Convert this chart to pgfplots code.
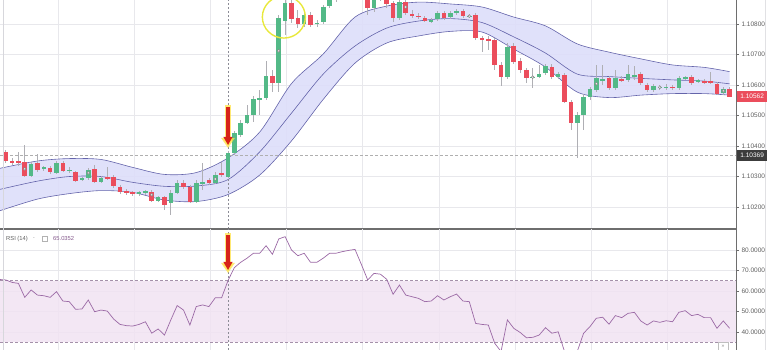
\documentclass[border=0pt]{standalone}
\usepackage{pgfplots}
\pgfplotsset{compat=1.18}
\usepackage{pgfplotstable}
\usepgfplotslibrary{fillbetween}
\usetikzlibrary{arrows.meta}
\usepackage{fontspec}
\setmainfont{Liberation Sans}
\definecolor{up}{RGB}{83,185,135}
\definecolor{dn}{RGB}{235,77,92}
\definecolor{wick}{RGB}{175,175,180}
\definecolor{bandline}{RGB}{100,100,170}
\definecolor{bandfill}{RGB}{221,222,250}
\definecolor{rsiline}{RGB}{155,105,165}
\definecolor{rsifill}{RGB}{241,227,242}
\definecolor{rsidash}{RGB}{165,145,170}
\definecolor{gridc}{RGB}{232,232,236}
\definecolor{axc}{RGB}{110,110,110}
\definecolor{lbl}{RGB}{95,95,95}
\definecolor{arrred}{RGB}{215,35,25}
\definecolor{glow}{RGB}{255,225,70}
\definecolor{circ}{RGB}{232,232,60}
\definecolor{darkbox}{RGB}{60,60,60}
\definecolor{hdash}{RGB}{175,175,175}
\definecolor{vdash}{RGB}{140,140,150}
\definecolor{bordl}{RGB}{215,215,220}
\definecolor{bordr}{RGB}{225,225,228}

% prices in units of 0.00001 above 1.10000
\pgfplotstableread{
i o h l c
4 303 348 299 341
6 325 335 318 330
8 313 351 309 344
10 318 331 312 323
12 289 299 286 294
13 294 328 289 322
15 283 302 279 294
21 243 253 236 248
22 245 256 240 251
24 221 236 217 232
26 212 256 174 245
27 247 289 243 280
30 218 289 213 278
31 277 344 256 282
33 280 315 276 305
35 300 384 295 376
36 376 449 371 442
37 436 486 430 477
38 477 535 472 502
39 502 564 479 553
40 553 584 502 558
41 557 679 551 630
43 606 830 577 819
44 811 879 764 870
47 800 840 791 830
49 800 813 791 805
50 807 863 800 855
51 859 895 853 885
52 885 928 872 912
53 912 961 905 950
58 852 900 840 886
62 819 879 813 873
67 808 820 804 813
68 816 843 810 835
70 822 843 817 835
71 835 850 830 844
73 823 833 820 828
79 626 739 620 726
83 623 655 590 628
84 628 666 623 636
85 641 669 633 663
87 626 643 620 636
90 475 512 360 502
91 502 571 453 562
92 562 594 551 586
93 584 666 577 622
94 615 666 600 620
96 590 650 584 622
98 617 666 610 636
99 628 663 617 633
102 584 604 577 597
103 590 600 584 595
104 590 604 584 595
106 590 630 584 622
107 620 630 617 625
109 610 620 607 615
113 573 594 568 587
}\upc

\pgfplotstableread{
i o h l c
0 381 387 345 351
1 351 361 338 346
2 351 382 335 346
3 349 404 299 303
5 344 374 315 322
7 327 335 309 316
9 344 351 315 319
11 314 318 282 287
14 324 338 279 283
16 299 332 289 294
17 298 305 263 269
18 267 272 243 249
19 251 259 240 246
20 248 253 236 243
23 250 256 217 221
25 232 236 190 207
28 280 289 259 265
29 267 272 213 218
32 288 295 272 279
34 311 348 299 305
42 630 650 577 606
45 870 879 804 816
46 819 846 787 800
48 830 840 791 797
54 961 970 925 935
55 940 950 900 912
56 915 925 882 885
57 889 900 830 852
59 905 915 875 882
60 886 895 853 866
61 868 875 807 819
63 873 879 830 835
64 833 846 820 828
65 828 836 817 823
66 819 827 807 811
69 835 843 813 819
72 844 850 820 827
74 830 836 748 753
75 753 761 710 748
76 751 761 715 746
77 748 754 650 666
78 666 676 597 626
80 728 739 669 677
81 679 689 640 650
82 650 656 606 622
86 660 669 620 626
88 633 640 541 546
89 546 551 453 475
95 622 630 584 590
97 620 630 610 615
100 636 643 600 606
101 600 607 577 584
105 595 600 584 590
108 628 633 600 606
110 613 620 604 608
111 613 644 604 608
112 604 610 568 571
114 587 594 561 562
}\dnc

\pgfplotstableread{
i up mid lo
-0.9 327 258 188
5 351 285 226
10 359 300 244
15 356 300 254
20 330 281 248
25 307 268 223
30 313 269 218
35 361 290 241
40 446 381 305
45 605 508 417
50 702 636 553
55 823 728 672
60 859 787 738
65 872 810 761
70 866 818 776
75 856 805 774
80 823 758 718
85 794 705 659
90 735 636 577
95 708 628 559
100 686 622 567
105 666 617 572
110 658 613 572
114 644 604 567
}\bands

\pgfplotstableread{
i v
-0.9 65.6
0 65.4
1 64.2
2 63.7
3 56.9
4 60.5
5 58
6 57.7
7 56.9
8 59.7
9 55.1
10 54.8
11 51.1
12 51.2
13 55.6
14 49.9
15 50.7
16 50.2
17 46.3
18 43.7
19 43.1
20 42.9
21 43.7
22 45
23 39.4
24 41.5
25 38.5
26 45.9
27 52.9
28 50.7
29 43.4
30 52.4
31 53.2
32 52.4
33 56.7
34 56.7
35 65.04
36 71.4
37 74
38 76
39 78.4
40 78.4
41 82.1
42 77.9
43 85.4
44 86.5
45 80
46 77.2
47 78.4
48 74
49 74
50 76
51 78.4
52 78.4
53 79.2
54 79.8
55 80.3
56 73
57 65.4
58 68.6
59 68.2
60 65.7
61 58.4
62 62.9
63 58
64 57.2
65 56.4
66 54.8
67 55.1
68 57.7
69 55.6
70 57.2
71 58.5
72 55.1
73 54.8
74 44.2
75 43.7
76 43.4
77 34.5
78 30.5
79 45.9
80 41.8
81 39.8
82 37.2
83 37.4
84 38.5
85 42.1
86 39.4
87 40.1
88 30.5
89 27
90 30.5
91 39.4
92 42.6
93 46.7
94 47.2
95 43.8
96 48
97 47
98 49.1
99 49.6
100 45.4
101 43.4
102 45.4
103 44.7
104 45.5
105 45
106 49.6
107 50.4
108 48
109 48.6
110 47
111 47
112 41.8
113 45.4
114 41.8
}\rsi

\pgfplotsset{
  panel/.style={
    scale only axis, width=736pt, xmin=-0.9, xmax=115,
    axis x line*=bottom, axis y line*=right,
    axis line style={draw=axc, line width=0.8pt},
    xtick={8.2,20.2,32.2,44.2,56.2,68.2,80.2,92.2,104.2}, xticklabels={},
    xtick style={draw=none},
    ytick style={draw=axc, line width=0.5pt},
    tick align=outside, major tick length=3pt,
    yticklabel style={font=\fontsize{6.5}{7}\selectfont, text=lbl, xshift=-1pt},
    grid=major, major grid style={draw=gridc, line width=0.5pt},
  },
  wicks/.style={draw=none, mark=none, forget plot,
    error bars/.cd, y dir=both, y explicit, error mark=none,
    error bar style={draw=wick, line width=0.7pt, solid}},
  bodies/.style={draw=none, mark=none, forget plot,
    error bars/.cd, y dir=both, y explicit, error mark=none,
    error bar style={draw=#1, line width=4.6pt, solid}},
}

\begin{document}
\begin{tikzpicture}[x=1pt,y=1pt]

% ---------- price panel ----------
\begin{axis}[panel, at={(0pt,121pt)}, anchor=south west, height=229pt,
  ymin=128, ymax=879,
  ytick={200,300,400,500,600,700,800},
  yticklabels={1.10200,1.10300,1.10400,1.10500,1.10600,1.10700,1.10800}]
  \addplot[name path=U, bandline, line width=0.6pt, smooth] table[x=i, y=up] {\bands};
  \addplot[name path=L, bandline, line width=0.6pt, smooth] table[x=i, y=lo] {\bands};
  \addplot[bandfill, fill opacity=0.9] fill between[of=U and L];
  \addplot[bandline, line width=0.6pt, smooth] table[x=i, y=mid] {\bands};
  \draw[hdash, dash pattern=on 2.5pt off 2.5pt, line width=0.6pt]
     (axis cs:-0.9,369) -- (axis cs:115,369);
  \draw[vdash, dash pattern=on 2pt off 2pt, line width=0.5pt]
     (axis cs:35,128) -- (axis cs:35,879);
  % wicks
  \addplot[wicks] table[x=i, y expr={(\thisrow{h}+\thisrow{l})/2}, y error expr={(\thisrow{h}-\thisrow{l})/2}] {\upc};
  \addplot[wicks] table[x=i, y expr={(\thisrow{h}+\thisrow{l})/2}, y error expr={(\thisrow{h}-\thisrow{l})/2}] {\dnc};
  % bodies
  \addplot[bodies=up] table[x=i, y expr={(\thisrow{o}+\thisrow{c})/2}, y error expr={abs(\thisrow{c}-\thisrow{o})/2}] {\upc};
  \addplot[bodies=dn] table[x=i, y expr={(\thisrow{o}+\thisrow{c})/2}, y error expr={abs(\thisrow{c}-\thisrow{o})/2}] {\dnc};
  \addplot[only marks, mark=*, mark size=1.4pt, mark options={fill=white, draw=gray, line width=0.5pt}]
    coordinates {(3,325) (13,312) (23,240) (33,292) (43,712) (63,856) (73,826) (83,626) (93,604) (103,593) (113,581)};
  \coordinate (c562) at (axis cs:115,562);
  \coordinate (c369) at (axis cs:115,369);
  \coordinate (ring) at (axis cs:43.8,823);
\end{axis}

% ---------- RSI panel ----------
\begin{axis}[panel, at={(0pt,0pt)}, anchor=south west, height=121pt,
  ymin=31.22, ymax=90.24, x axis line style={draw=none},
  ytick={40,50,60,70,80},
  yticklabels={40.0000,50.0000,60.0000,70.0000,80.0000}]
  \fill[rsifill, opacity=0.85] (axis cs:-0.9,35) rectangle (axis cs:115,65);
  \draw[rsidash, dash pattern=on 3pt off 2pt, line width=0.8pt] (axis cs:-0.9,65) -- (axis cs:115,65);
  \draw[rsidash, dash pattern=on 3pt off 2pt, line width=0.8pt] (axis cs:-0.9,35) -- (axis cs:115,35);
  \draw[vdash, dash pattern=on 2pt off 2pt, line width=0.5pt]
     (axis cs:35,31.22) -- (axis cs:35,90.24);
  \addplot[rsiline, line width=0.7pt, mark=none] table[x=i, y=v] {\rsi};
\end{axis}

% separator and borders
\draw[axc, line width=1pt] (0,121) -- (736,121);
\draw[bordl, line width=0.6pt] (3,0) -- (3,350);
\draw[bordr, line width=0.6pt] (765.5,0) -- (765.5,350);

% price labels
\node[fill=dn, text=white, font=\fontsize{6.5}{7}\selectfont, anchor=west, inner sep=0pt,
      minimum width=30pt, minimum height=10.5pt] at ([xshift=1pt]c562) {1.10562};
\node[fill=darkbox, text=white, font=\fontsize{6.5}{7}\selectfont, anchor=west, inner sep=0pt,
      minimum width=30pt, minimum height=10.5pt] at ([xshift=1pt]c369) {1.10369};

% yellow ring
\draw[circ, line width=1.4pt] (ring) ellipse [x radius=21.5pt, y radius=21pt];

% arrows
\foreach \ya/\yb in {243/205, 115/80} {
  \draw[glow, opacity=0.75, line width=6.5pt, -{Triangle[width=13pt,length=10pt]}] (228,\ya+2) -- (228,\yb-3);
  \draw[arrred, line width=3.2pt, -{Triangle[width=8.5pt,length=8pt]}] (228,\ya) -- (228,\yb);
}

% RSI legend
\node[anchor=west, font=\fontsize{5.8}{6}\selectfont, text=lbl, inner sep=0pt] at (6,111) {RSI (14)};
\node[anchor=west, font=\fontsize{5}{6}\selectfont, text=gray, inner sep=0pt] at (33,111) {-};
\draw[gray!60, line width=0.4pt] (42,108.5) rectangle (47.5,113.5);
\node[anchor=west, font=\fontsize{5.8}{6}\selectfont, text=rsiline!85!black, inner sep=0pt] at (53,111) {65.0352};

% scroll button
\node[draw=gray!50, fill=white, font=\fontsize{5}{6}\selectfont, text=gray, inner sep=1pt,
      minimum width=10pt, minimum height=8pt] at (723,4) {»};

\pgfresetboundingbox
\path[use as bounding box] (0,0) rectangle (768,350);
\end{tikzpicture}
\end{document}
